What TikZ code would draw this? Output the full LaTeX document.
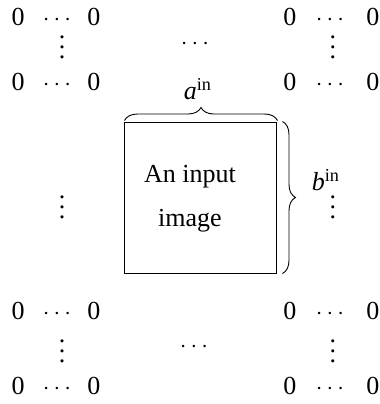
\documentclass[tikz,border=0pt]{standalone}
\usepackage{fontspec}
\setmainfont{Liberation Serif}
\usetikzlibrary{decorations.pathreplacing}
\newcommand{\myvdots}{\vbox{\baselineskip5pt\lineskiplimit0pt\hbox{.}\hbox{.}\hbox{.}}}
\begin{document}
\begin{tikzpicture}[x=0.5pt,y=-0.5pt,
  lbl/.style={inner sep=0pt, font=\fontsize{13}{15}\selectfont},
  cell/.style={lbl, anchor=base},
  bracestyle/.style={draw, line width=0.45pt, decorate, decoration={brace, amplitude=6.5pt}}]
\useasboundingbox (0,0) rectangle (380,404);
% top-left block
\node[cell] (tl1) at (18,25) {0};
\node[cell] (tl2) at (57,25) {$\cdots$};
\node[cell] (tl3) at (94,25) {0};
\node[lbl] (tl4) at (62,47) {\myvdots};
\node[cell] (tl5) at (18,90) {0};
\node[cell] (tl6) at (57,90) {$\cdots$};
\node[cell] (tl7) at (94,90) {0};
% top-right block
\node[cell] (tr1) at (290,25) {0};
\node[cell] (tr2) at (330,25) {$\cdots$};
\node[cell] (tr3) at (373,25) {0};
\node[lbl] (tr4) at (333,47) {\myvdots};
\node[cell] (tr5) at (290,90) {0};
\node[cell] (tr6) at (330,90) {$\cdots$};
\node[cell] (tr7) at (373,90) {0};
% top middle
\node[lbl] (tm) at (195,44) {$\cdots$};
% bottom-left block
\node[cell] (bl1) at (18,319) {0};
\node[cell] (bl2) at (57,319) {$\cdots$};
\node[cell] (bl3) at (94,319) {0};
\node[lbl] (bl4) at (62,351) {\myvdots};
\node[cell] (bl5) at (18,394) {0};
\node[cell] (bl6) at (57,394) {$\cdots$};
\node[cell] (bl7) at (94,394) {0};
% bottom-right block
\node[cell] (br1) at (290,319) {0};
\node[cell] (br2) at (330,319) {$\cdots$};
\node[cell] (br3) at (373,319) {0};
\node[lbl] (br4) at (333,351) {\myvdots};
\node[cell] (br5) at (290,394) {0};
\node[cell] (br6) at (330,394) {$\cdots$};
\node[cell] (br7) at (373,394) {0};
% bottom middle
\node[lbl] (bm) at (194,347) {$\cdots$};
% side dots
\node[lbl] (ml) at (62,207) {\myvdots};
\node[lbl] (mr) at (333,207) {\myvdots};
% input image box
\node[draw, line width=0.5pt, minimum width=76pt, minimum height=75.5pt, inner sep=0pt] (box) at (201,197.5) {};
\node[lbl, align=center, font=\fontsize{13}{22}\selectfont] (txt) at (190,199) {An input\\image};
% braces
\draw[bracestyle, decoration={raise=0.5pt}] (box.north west) -- (box.north east);
\draw[bracestyle, decoration={raise=2.5pt}] (box.north east) -- (box.south east);
\node[lbl] (a) at (198,89) {{\itshape a}\textsuperscript{in}};
\node[lbl] (b) at (326,180) {{\itshape b}\textsuperscript{in}};
\end{tikzpicture}
\end{document}
